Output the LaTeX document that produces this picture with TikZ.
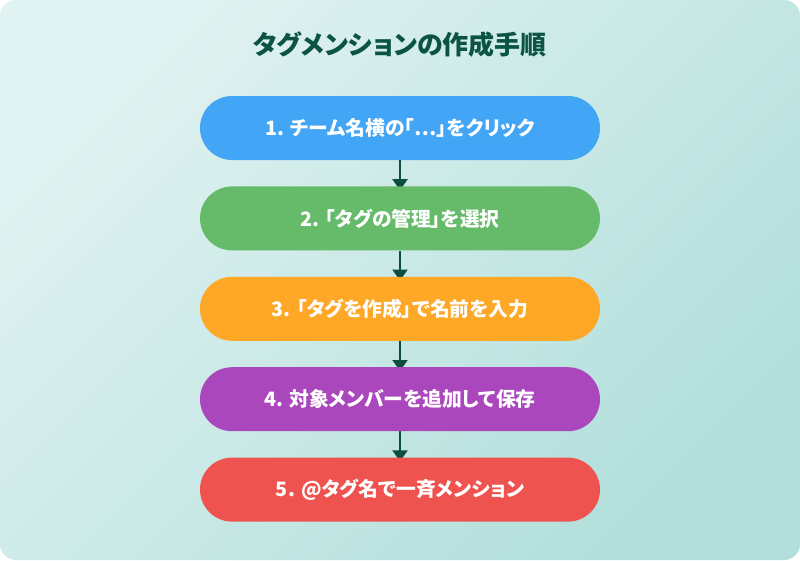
\documentclass[tikz,border=0pt]{standalone}
\usepackage{fontspec}
\setmainfont{Noto Sans CJK JP}[RawFeature=+palt]
\usetikzlibrary{positioning,arrows.meta}

\definecolor{bgtop}{HTML}{E0F2F1}
\definecolor{bgbottom}{HTML}{B2DFDB}
\definecolor{titlegreen}{HTML}{0B5345}
\definecolor{arrowgreen}{HTML}{0D4D40}
\definecolor{stepblue}{HTML}{42A5F5}
\definecolor{stepgreen}{HTML}{66BB6A}
\definecolor{steporange}{HTML}{FFA726}
\definecolor{steppurple}{HTML}{AB47BC}
\definecolor{stepred}{HTML}{EF5350}

\pgfdeclarelayer{bg}
\pgfdeclarelayer{behind}
\pgfsetlayers{bg,behind,main}

\tikzset{
	stepbox/.style={minimum width=400pt, minimum height=64pt, rounded corners=32pt,
		inner sep=0pt, text=white, font=\bfseries\fontsize{19.8}{24}\selectfont},
	titletext/.style={text=titlegreen, font=\bfseries\fontsize{26}{31}\selectfont},
	flow/.style={draw=arrowgreen, line width=2pt, -{Triangle[length=11pt,width=15pt]}, shorten >=-4pt}
}

\begin{document}
\begin{tikzpicture}[x=1pt,y=-1pt]
		\useasboundingbox (0,0) rectangle (800,560);
		\begin{pgfonlayer}{bg}
			\shade[rounded corners=16pt, top color=bgtop, bottom color=bgbottom, shading angle=45] (0,0) rectangle (800,560);
		\end{pgfonlayer}

		\node[titletext] (title) at (400,45) {タグメンションの作成手順};

		\node[stepbox, fill=stepblue] (s1) at (400,128) {1. チーム名横の「…」をクリック};
		\node[stepbox, fill=stepgreen, below=26pt of s1] (s2) {2. 「タグの管理」を選択};
		\node[stepbox, fill=steporange, below=26pt of s2] (s3) {3. 「タグを作成」で名前を入力};
		\node[stepbox, fill=steppurple, below=26pt of s3] (s4) {4. 対象メンバーを追加して保存};
		\node[stepbox, fill=stepred, below=26pt of s4] (s5) {5. @タグ名で一斉メンション};

		% arrows go under the boxes
		\begin{pgfonlayer}{behind}
			\draw[flow] (s1.south) -- (s2.north);
			\draw[flow] (s2.south) -- (s3.north);
			\draw[flow] (s3.south) -- (s4.north);
			\draw[flow] (s4.south) -- (s5.north);
		\end{pgfonlayer}
	\end{tikzpicture}
\end{document}
